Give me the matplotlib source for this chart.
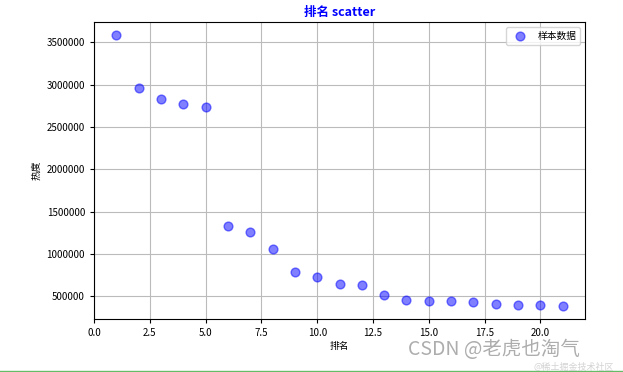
import matplotlib.pyplot as plt
import numpy as np

plt.rcParams['font.family'] = ['Noto Sans CJK SC', 'DejaVu Sans']
plt.rcParams['axes.unicode_minus'] = False

# 排名 与 热度
rank = list(range(1, 22))
heat = [3580000, 2955000, 2825000, 2770000, 2730000, 1330000, 1265000, 1055000,
        790000, 725000, 645000, 630000, 515000, 460000, 450000, 450000,
        430000, 410000, 400000, 400000, 390000]

fig = plt.figure(figsize=(6.23, 3.72), dpi=100)
ax = fig.add_axes([0.151, 0.142, 0.788, 0.799])

ax.scatter(rank, heat, s=40, c='blue', alpha=0.5, label='样本数据', zorder=3)
ax.set_title('排名 scatter', color='blue', fontsize=9, fontweight='bold', pad=4)
ax.set_xlabel('排名', fontsize=7, labelpad=2)
ax.set_ylabel('热度', fontsize=7, labelpad=4)
ax.ticklabel_format(axis='y', style='plain')
ax.tick_params(labelsize=7, length=3)
ax.grid(True, color='#bbbbbb', linewidth=0.8)
ax.legend(loc='upper right', fontsize=7, framealpha=0.8)

# 水印
fig.text(0.655, 0.045, 'CSDN @老虎也淘气', fontsize=14, color='#999999', alpha=0.8)
fig.text(0.985, 0.0, '@稀土掘金技术社区', fontsize=6.5, color='#c8c8c8', alpha=0.8,
         ha='right', va='bottom')
fig.add_artist(plt.Line2D([0, 1], [0.004, 0.004], color='#66bb66', linewidth=1))

fig.savefig('out.png', dpi=100)
